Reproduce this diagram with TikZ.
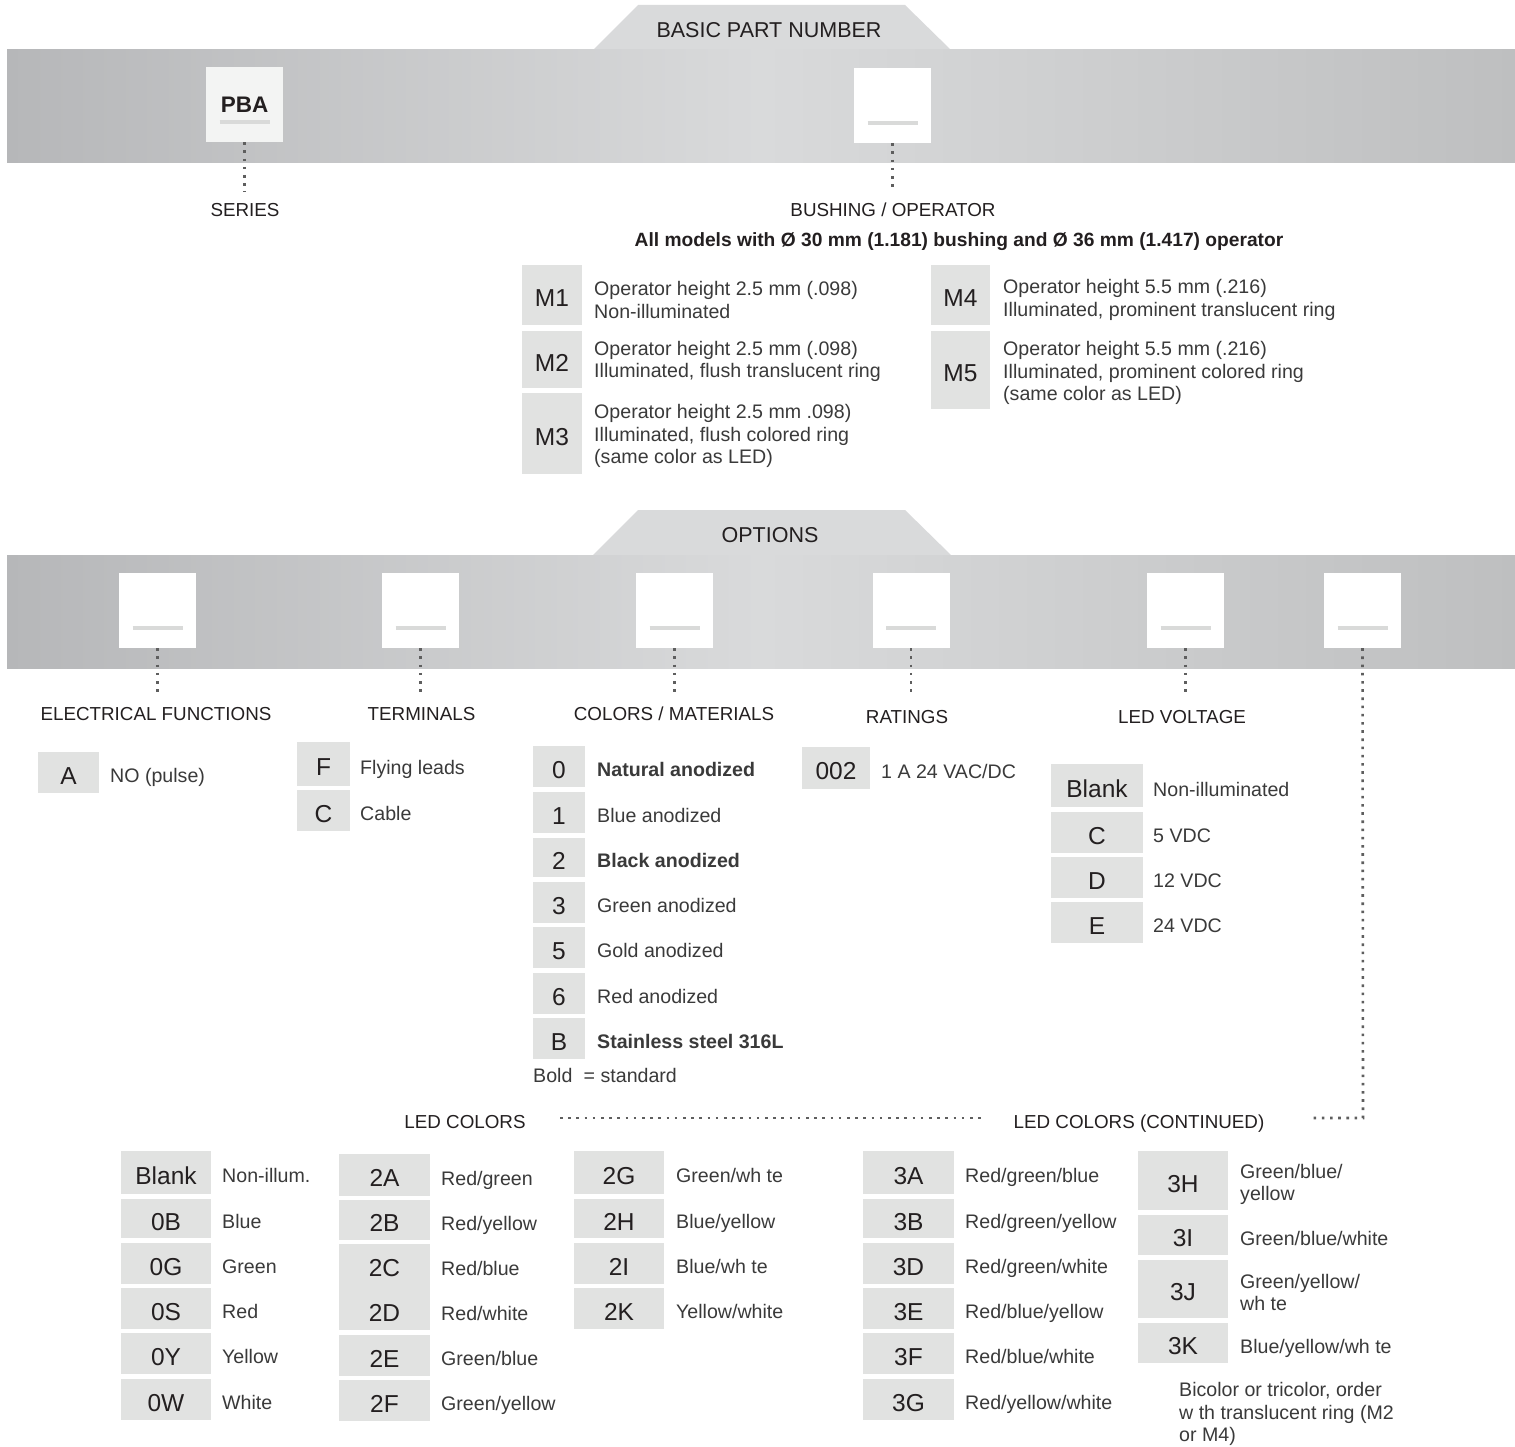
\documentclass[tikz,border=0pt]{standalone}
\usepackage{fontspec}
\setmainfont{Liberation Sans}
\definecolor{bandL}{HTML}{B6B7B9}
\definecolor{bandM}{HTML}{D9DADB}
\definecolor{bandR}{HTML}{BEBFC0}
\definecolor{tabcol}{HTML}{D9DADB}
\definecolor{boxgray}{HTML}{E1E2E1}
\definecolor{codecol}{HTML}{231F20}
\definecolor{desccol}{HTML}{3A3A3A}
\definecolor{lblcol}{HTML}{231F20}
\definecolor{dotcol}{HTML}{5E5E5E}
\definecolor{barcol}{HTML}{D9DAD9}
\definecolor{offwhite}{HTML}{F3F4F3}
\tikzset{
  slot/.style={fill=white, inner sep=0pt, minimum width=77pt, minimum height=75pt,
    path picture={\draw[barcol, line width=4pt]
      ([xshift=-25pt,yshift=20pt]path picture bounding box.south) --
      ([xshift=25pt,yshift=20pt]path picture bounding box.south);}},
  hdr/.style={inner sep=0pt, text=lblcol, font=\fontsize{21.5}{25}\selectfont, text height=15.5pt, text depth=0pt},
  lbl/.style={inner sep=0pt, text=lblcol, font=\fontsize{18.8}{22}\selectfont, text height=13.5pt, text depth=0pt},
  code/.style={fill=boxgray, inner sep=0pt, text=codecol, font=\fontsize{24.5}{28}\selectfont, text height=23.6pt, text depth=0pt},
  codetxt/.style={inner sep=0pt, text=codecol, font=\fontsize{24.5}{28}\selectfont, text height=23.6pt, text depth=0pt},
  desc/.style={anchor=west, inner sep=0pt, text=desccol, font=\fontsize{19.6}{22.5}\selectfont, text height=14.1pt, text depth=0pt},
  descm/.style={anchor=west, inner sep=0pt, text=desccol, font=\fontsize{19.6}{22.5}\selectfont, align=left},
  dots/.style={draw=dotcol, line width=2.6pt, dash pattern=on 2.6pt off 5.6pt},
}
\begin{document}
\begin{tikzpicture}[x=1pt,y=-1pt]
\useasboundingbox (0,0) rectangle (1515,1447);
\fill[white] (0,0) rectangle (1515,1447);

% ===== BASIC PART NUMBER band =====
\fill[tabcol] (592,51) -- (638,5) -- (905,5) -- (952,51) -- cycle;
\shade[left color=bandL,right color=bandR,middle color=bandM] (7,50) rectangle (1515,163);
\node[hdr] (bpn) at (769,30) {BASIC PART NUMBER};
\node[slot, fill=offwhite, font=\bfseries\fontsize{22.5}{26}\selectfont, text=codecol, text height=16.2pt, text depth=0pt] (pba) at (244.5,104.5) {PBA};
\node[slot] (bush) at (892.5,105.5) {};
\node[lbl] (series) at (245,210) {SERIES};
\node[lbl] (bushlbl) at (893,210) {BUSHING / OPERATOR};
\draw[dots, shorten >=11pt] (pba.south) -- (pba.south |- series.north);
\draw[dots, shorten >=11pt] (bush.south) -- (bush.south |- bushlbl.north);
\node[inner sep=0pt, text=lblcol, font=\bfseries\fontsize{19.2}{22}\selectfont] (allmod) at (959,242) {All models with Ø 30 mm (1.181) bushing and Ø 36 mm (1.417) operator};

% ===== M options =====
\node[code, minimum width=60pt, minimum height=60pt] (m1) at (552,295) {M1};
\node[descm] (m1t) at (594,300) {Operator height 2.5 mm (.098)\\Non-illuminated};
\node[code, minimum width=60pt, minimum height=57pt] (m2) at (552,359.5) {M2};
\node[descm] (m2t) at (594,361.5) {Operator height 2.5 mm (.098)\\Illuminated, flush translucent ring};
\node[code, minimum width=60pt, minimum height=81pt] (m3) at (552,433.5) {M3};
\node[descm] (m3t) at (594,436) {Operator height 2.5 mm .098)\\Illuminated, flush colored ring\\(same color as LED)};
\node[code, minimum width=59pt, minimum height=60pt] (m4) at (960.5,295) {M4};
\node[descm] (m4t) at (1003,300) {Operator height 5.5 mm (.216)\\Illuminated, prominent translucent ring};
\node[code, minimum width=59pt, minimum height=78pt] (m5) at (960.5,370) {M5};
\node[descm] (m5t) at (1003,373) {Operator height 5.5 mm (.216)\\Illuminated, prominent colored ring\\(same color as LED)};

% ===== OPTIONS band =====
\fill[tabcol] (592,556) -- (638,510) -- (905,510) -- (952,556) -- cycle;
\shade[left color=bandL,right color=bandR,middle color=bandM] (7,555) rectangle (1515,668);
\node[hdr] (opt) at (770,535) {OPTIONS};
\node[slot] (s1) at (157.5,610.5) {};
\node[slot] (s2) at (420.5,610.5) {};
\node[slot] (s3) at (674.5,610.5) {};
\node[slot] (s4) at (911,610.5) {};
\node[slot] (s5) at (1185.5,610.5) {};
\node[slot] (s6) at (1362.5,610.5) {};
\node[lbl] (l1) at (156,714) {ELECTRICAL FUNCTIONS};
\node[lbl] (l2) at (421.5,714) {TERMINALS};
\node[lbl] (l3) at (674,714) {COLORS / MATERIALS};
\node[lbl] (l4) at (907,717) {RATINGS};
\node[lbl] (l5) at (1182,717) {LED VOLTAGE};
\draw[dots, shorten >=10pt] (s1.south) -- (s1.south |- l1.north);
\draw[dots, shorten >=10pt] (s2.south) -- (s2.south |- l2.north);
\draw[dots, shorten >=10pt] (s3.south) -- (s3.south |- l3.north);
\draw[dots, shorten >=13pt] (s4.south) -- (s4.south |- l4.north);
\draw[dots, shorten >=13pt] (s5.south) -- (s5.south |- l5.north);

% Electrical functions
\node[code, minimum width=61pt, minimum height=41pt] (ea) at (68.5,772.5) {A};
\node[desc] (eat) at (110,775.5) {NO (pulse)};
% Terminals
\node[code, minimum width=53pt, minimum height=44pt] (tf) at (323.5,764) {F};
\node[desc] (tft) at (360,767) {Flying leads};
\node[code, minimum width=53pt, minimum height=41pt] (tc) at (323.5,810.5) {C};
\node[desc] (tct) at (360,813.5) {Cable};
% Colors / materials
\node[code, minimum width=52pt, minimum height=41pt] (c0) at (559,766.5) {0};
\node[desc] (c0t) at (597,769) {\bfseries Natural anodized};
\node[code, minimum width=52pt, minimum height=41pt] (c1) at (559,812.5) {1};
\node[desc] (c1t) at (597,815) {Blue anodized};
\node[code, minimum width=52pt, minimum height=39pt] (c2) at (559,857.5) {2};
\node[desc] (c2t) at (597,860) {\bfseries Black anodized};
\node[code, minimum width=52pt, minimum height=41pt] (c3) at (559,902.5) {3};
\node[desc] (c3t) at (597,905) {Green anodized};
\node[code, minimum width=52pt, minimum height=41pt] (c5) at (559,947.5) {5};
\node[desc] (c5t) at (597,950) {Gold anodized};
\node[code, minimum width=52pt, minimum height=41pt] (c6) at (559,993.5) {6};
\node[desc] (c6t) at (597,996) {Red anodized};
\node[code, minimum width=52pt, minimum height=41pt] (cb) at (559,1038.5) {B};
\node[desc] (cbt) at (597,1041) {\bfseries Stainless steel 316L};
\node[desc] (bold) at (533,1075) {Bold\hspace{0.3em} = standard};
% Ratings
\node[code, minimum width=68pt, minimum height=42pt] (r002) at (836,768) {002};
\node[desc] (r002t) at (881,771) {1 A 24 VAC/DC};
% LED voltage
\node[code, minimum width=92pt, minimum height=43pt] (vb) at (1097,785.5) {Blank};
\node[desc] (vbt) at (1153,789) {Non-illuminated};
\node[code, minimum width=92pt, minimum height=41pt] (vc) at (1097,832.5) {C};
\node[desc] (vct) at (1153,835.5) {5 VDC};
\node[code, minimum width=92pt, minimum height=41pt] (vd) at (1097,877.5) {D};
\node[desc] (vdt) at (1153,880.5) {12 VDC};
\node[code, minimum width=92pt, minimum height=41pt] (ve) at (1097,922.5) {E};
\node[desc] (vet) at (1153,925.5) {24 VDC};

% ===== LED colors =====
\node[lbl] (ledc) at (465,1122) {LED COLORS};
\node[lbl] (ledcc) at (1139,1122) {LED COLORS (CONTINUED)};
\coordinate (ledturn) at (1363,1118);
\coordinate (ledstop) at (1313,1118);
\coordinate (ledA) at (560,1118);
\coordinate (ledB) at (983,1118);
\draw[dots] (s6.south) -- (ledturn) -- (ledstop);
\draw[dots] (ledA) -- (ledB);

% column 0x
\node[code, minimum width=90pt, minimum height=43pt] (k0) at (166,1172.5) {Blank};
\node[desc] (k0t) at (222,1175.5) {Non-illum.};
\node[code, minimum width=90pt, minimum height=39pt] (k0b) at (166,1218.5) {0B};
\node[desc] (k0bt) at (222,1221.5) {Blue};
\node[code, minimum width=90pt, minimum height=41pt] (k0g) at (166,1263.5) {0G};
\node[desc] (k0gt) at (222,1266.5) {Green};
\node[code, minimum width=90pt, minimum height=41pt] (k0s) at (166,1308.5) {0S};
\node[desc] (k0st) at (222,1311.5) {Red};
\node[code, minimum width=90pt, minimum height=41pt] (k0y) at (166,1353.5) {0Y};
\node[desc] (k0yt) at (222,1356.5) {Yellow};
\node[code, minimum width=90pt, minimum height=41pt] (k0w) at (166,1399.5) {0W};
\node[desc] (k0wt) at (222,1402.5) {White};
% column 2A-2F
\node[code, minimum width=91pt, minimum height=42pt] (k2a) at (384.5,1175) {2A};
\node[desc] (k2at) at (441,1178) {Red/green};
\node[code, minimum width=91pt, minimum height=40pt] (k2b) at (384.5,1220) {2B};
\node[desc] (k2bt) at (441,1223) {Red/yellow};
\node[code, minimum width=91pt, minimum height=86pt] (k2cd) at (384.5,1287) {};
\node[codetxt] (k2c) at (384.5,1265) {2C};
\node[codetxt] (k2d) at (384.5,1310) {2D};
\node[desc] (k2ct) at (441,1268) {Red/blue};
\node[desc] (k2dt) at (441,1313) {Red/white};
\node[code, minimum width=91pt, minimum height=41pt] (k2e) at (384.5,1355.5) {2E};
\node[desc] (k2et) at (441,1358.5) {Green/blue};
\node[code, minimum width=91pt, minimum height=41pt] (k2f) at (384.5,1400.5) {2F};
\node[desc] (k2ft) at (441,1403.5) {Green/yellow};
% column 2G-2K
\node[code, minimum width=90pt, minimum height=43pt] (k2g) at (619,1172.5) {2G};
\node[desc] (k2gt) at (676,1175.5) {Green/wh te};
\node[code, minimum width=90pt, minimum height=39pt] (k2h) at (619,1218.5) {2H};
\node[desc] (k2ht) at (676,1221.5) {Blue/yellow};
\node[code, minimum width=90pt, minimum height=41pt] (k2i) at (619,1263.5) {2I};
\node[desc] (k2it) at (676,1266.5) {Blue/wh te};
\node[code, minimum width=90pt, minimum height=41pt] (k2k) at (619,1308.5) {2K};
\node[desc] (k2kt) at (676,1311.5) {Yellow/white};
% column 3A-3G
\node[code, minimum width=91pt, minimum height=43pt] (k3a) at (908.5,1172.5) {3A};
\node[desc] (k3at) at (965,1175.5) {Red/green/blue};
\node[code, minimum width=91pt, minimum height=39pt] (k3b) at (908.5,1218.5) {3B};
\node[desc] (k3bt) at (965,1221.5) {Red/green/yellow};
\node[code, minimum width=91pt, minimum height=41pt] (k3d) at (908.5,1263.5) {3D};
\node[desc] (k3dt) at (965,1266.5) {Red/green/white};
\node[code, minimum width=91pt, minimum height=41pt] (k3e) at (908.5,1308.5) {3E};
\node[desc] (k3et) at (965,1311.5) {Red/blue/yellow};
\node[code, minimum width=91pt, minimum height=41pt] (k3f) at (908.5,1353.5) {3F};
\node[desc] (k3ft) at (965,1356.5) {Red/blue/white};
\node[code, minimum width=91pt, minimum height=41pt] (k3g) at (908.5,1399.5) {3G};
\node[desc] (k3gt) at (965,1402.5) {Red/yellow/white};
% column 3H-3K
\node[code, minimum width=90pt, minimum height=59pt] (k3h) at (1183,1180.5) {3H};
\node[descm] (k3ht) at (1240,1184.5) {Green/blue/\\yellow};
\node[code, minimum width=90pt, minimum height=40pt] (k3i) at (1183,1235) {3I};
\node[desc] (k3it) at (1240,1238) {Green/blue/white};
\node[code, minimum width=90pt, minimum height=58pt] (k3j) at (1183,1289) {3J};
\node[descm] (k3jt) at (1240,1292.5) {Green/yellow/\\wh te};
\node[code, minimum width=90pt, minimum height=40pt] (k3k) at (1183,1343) {3K};
\node[desc] (k3kt) at (1240,1346) {Blue/yellow/wh te};
\node[descm] (note) at (1179,1414) {Bicolor or tricolor, order\\w th translucent ring (M2\\or M4)};
\end{tikzpicture}
\end{document}
